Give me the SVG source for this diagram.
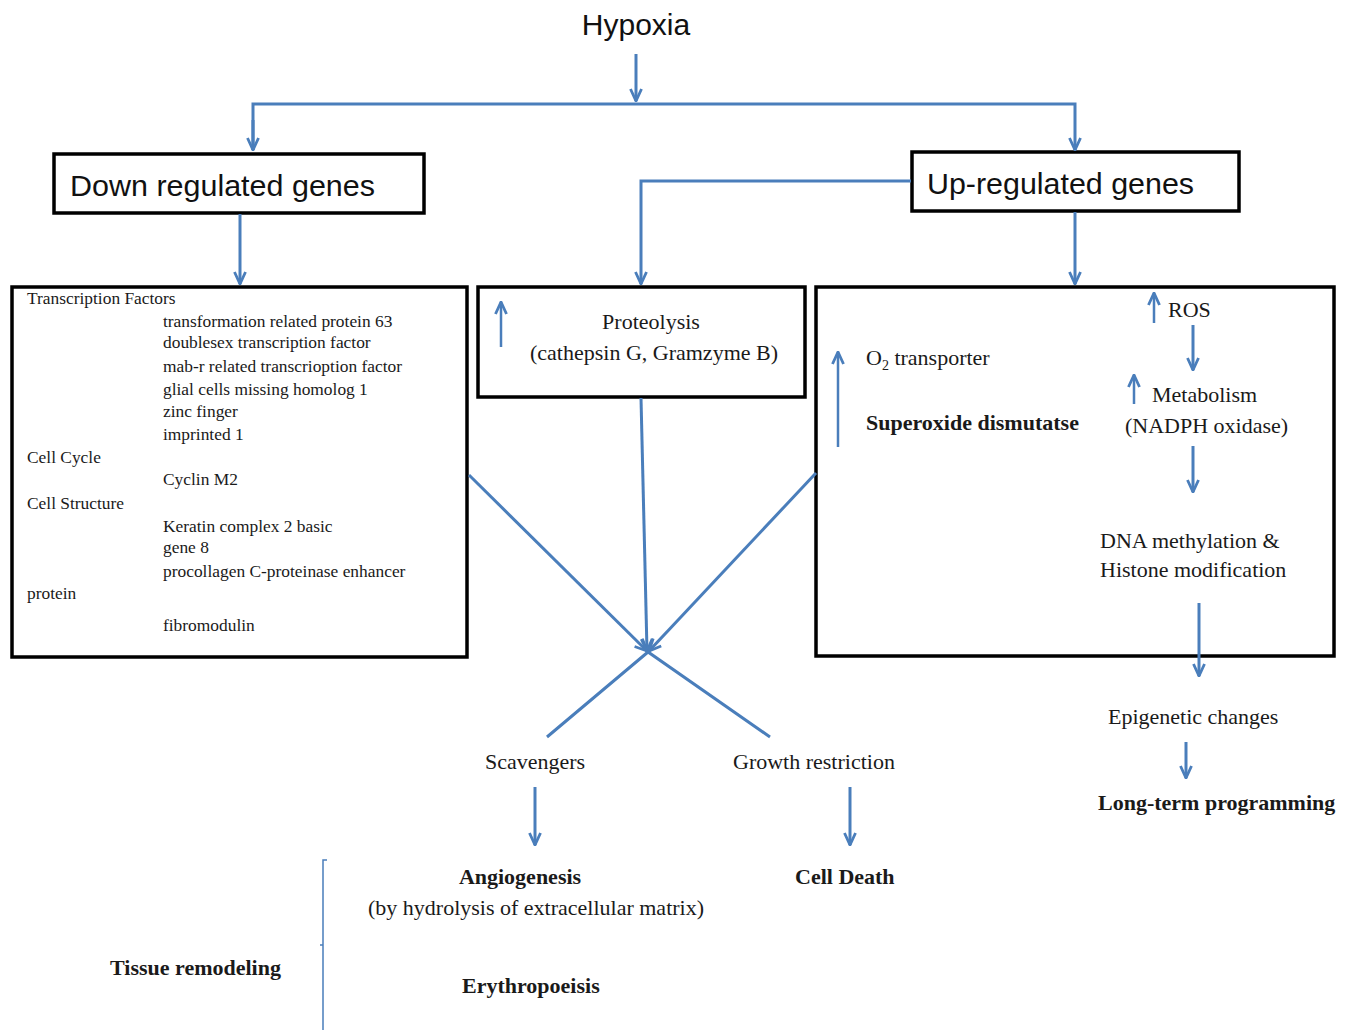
<svg xmlns="http://www.w3.org/2000/svg" width="1359" height="1030" viewBox="0 0 1359 1030">
<defs>
<style>
.bx{fill:#fff;stroke:#000;stroke-width:3.5}
.ln{fill:none;stroke:#4a7ebb;stroke-width:3}
.sa{fill:none;stroke:#4a7ebb;stroke-width:2.5}
.sans{font-family:"Liberation Sans",Arial,sans-serif;fill:#111}
.ser{font-family:"Liberation Serif","Times New Roman",serif;fill:#1a1a1a}
.s17{font-size:17.4px}
.s22{font-size:22px}
.b{font-weight:bold}
</style>
<marker id="ah" viewBox="0 0 14 14" refX="13" refY="7" markerWidth="14" markerHeight="14" markerUnits="userSpaceOnUse" orient="auto">
<path d="M1,1.5 L13,7 L1,12.5" fill="none" stroke="#4a7ebb" stroke-width="2.8"/>
</marker>
</defs>
<rect width="1359" height="1030" fill="#fff"/>

<g id="hypoxia">
<text class="sans" x="636" y="35" font-size="30" text-anchor="middle">Hypoxia</text>
</g>

<g id="down-regulated">
<rect class="bx" x="54" y="154" width="370" height="59"/>
<text class="sans" x="70" y="196" font-size="30" textLength="305" lengthAdjust="spacingAndGlyphs">Down regulated genes</text>
</g>

<g id="up-regulated">
<rect class="bx" x="912" y="152" width="327" height="59"/>
<text class="sans" x="927" y="194" font-size="30" textLength="267" lengthAdjust="spacingAndGlyphs">Up-regulated genes</text>
</g>

<g id="down-genes-box">
<rect class="bx" x="12" y="287" width="455" height="370"/>
<g class="ser s17">
<text x="27" y="304">Transcription Factors</text>
<text x="163" y="327">transformation related protein 63</text>
<text x="163" y="348">doublesex transcription factor</text>
<text x="163" y="372">mab-r related transcrioption factor</text>
<text x="163" y="395">glial cells missing homolog 1</text>
<text x="163" y="417">zinc finger</text>
<text x="163" y="440">imprinted 1</text>
<text x="27" y="463">Cell Cycle</text>
<text x="163" y="485">Cyclin M2</text>
<text x="27" y="509">Cell Structure</text>
<text x="163" y="532">Keratin complex 2 basic</text>
<text x="163" y="553">gene 8</text>
<text x="163" y="577">procollagen C-proteinase enhancer</text>
<text x="27" y="599">protein</text>
<text x="163" y="631">fibromodulin</text>
</g>
</g>

<g id="proteolysis-box">
<rect class="bx" x="478" y="287" width="327" height="110"/>
<path class="sa" d="M501,347 L501,302" marker-end="url(#ah)"/>
<text class="ser s22" x="651" y="329" text-anchor="middle">Proteolysis</text>
<text class="ser s22" x="654" y="360" text-anchor="middle">(cathepsin G, Gramzyme B)</text>
</g>

<g id="up-genes-box">
<rect class="bx" x="816" y="287" width="518" height="369"/>
<path class="sa" d="M838,447 L838,352" marker-end="url(#ah)"/>
<text class="ser s22" x="866" y="365">O<tspan font-size="14" dy="5">2</tspan><tspan dy="-5"> transporter</tspan></text>
<text class="ser s22 b" x="866" y="430">Superoxide dismutatse</text>
<path class="sa" d="M1154,323 L1154,293" marker-end="url(#ah)"/>
<text class="ser s22" x="1168" y="317">ROS</text>
<path class="sa" d="M1134,404 L1134,375" marker-end="url(#ah)"/>
<text class="ser s22" x="1152" y="402">Metabolism</text>
<text class="ser s22" x="1125" y="433">(NADPH oxidase)</text>
<text class="ser s22" x="1100" y="548">DNA methylation &amp;</text>
<text class="ser s22" x="1100" y="577">Histone modification</text>
</g>

<g id="epigenetic">
<text class="ser s22" x="1108" y="724">Epigenetic changes</text>
</g>
<g id="long-term">
<text class="ser s22 b" x="1098" y="810">Long-term programming</text>
</g>

<g id="scavengers">
<text class="ser s22" x="485" y="769">Scavengers</text>
</g>
<g id="growth">
<text class="ser s22" x="733" y="769">Growth restriction</text>
</g>
<g id="angiogenesis">
<text class="ser s22 b" x="520" y="884" text-anchor="middle">Angiogenesis</text>
<text class="ser s22" x="368" y="915">(by hydrolysis of extracellular matrix)</text>
</g>
<g id="cell-death">
<text class="ser s22 b" x="795" y="884">Cell Death</text>
</g>
<g id="erythropoeisis">
<text class="ser s22 b" x="462" y="993">Erythropoeisis</text>
</g>
<g id="tissue-remodeling">
<text class="ser s22 b" x="110" y="975">Tissue remodeling</text>
<path d="M327,860 L323,860 L323,1030 M323,945 L320,945" fill="none" stroke="#4a7ebb" stroke-width="1.5"/>
</g>

<g id="connectors">
<path class="ln" d="M636,54 L636,101" marker-end="url(#ah)"/>
<path class="ln" d="M253,150 L253,104 L1075,104 L1075,150" marker-end="url(#ah)"/>
<path class="ln" d="M253,120 L253,150" marker-end="url(#ah)"/>
<path class="ln" d="M240,214 L240,284" marker-end="url(#ah)"/>
<path class="ln" d="M911,181 L641,181 L641,284" marker-end="url(#ah)"/>
<path class="ln" d="M1075,212 L1075,284" marker-end="url(#ah)"/>
<path class="ln" d="M469,475 L647,651" marker-end="url(#ah)"/>
<path class="ln" d="M641,398 L647,651" marker-end="url(#ah)"/>
<path class="ln" d="M816,473 L649,651" marker-end="url(#ah)"/>
<path class="ln" d="M547,737 L648,652 L770,737"/>
<path class="ln" d="M1193,325 L1193,370" marker-end="url(#ah)"/>
<path class="ln" d="M1193,446 L1193,492" marker-end="url(#ah)"/>
<path class="ln" d="M1199,603 L1199,676" marker-end="url(#ah)"/>
<path class="ln" d="M1186,742 L1186,778" marker-end="url(#ah)"/>
<path class="ln" d="M535,787 L535,845" marker-end="url(#ah)"/>
<path class="ln" d="M850,787 L850,845" marker-end="url(#ah)"/>
</g>
</svg>
